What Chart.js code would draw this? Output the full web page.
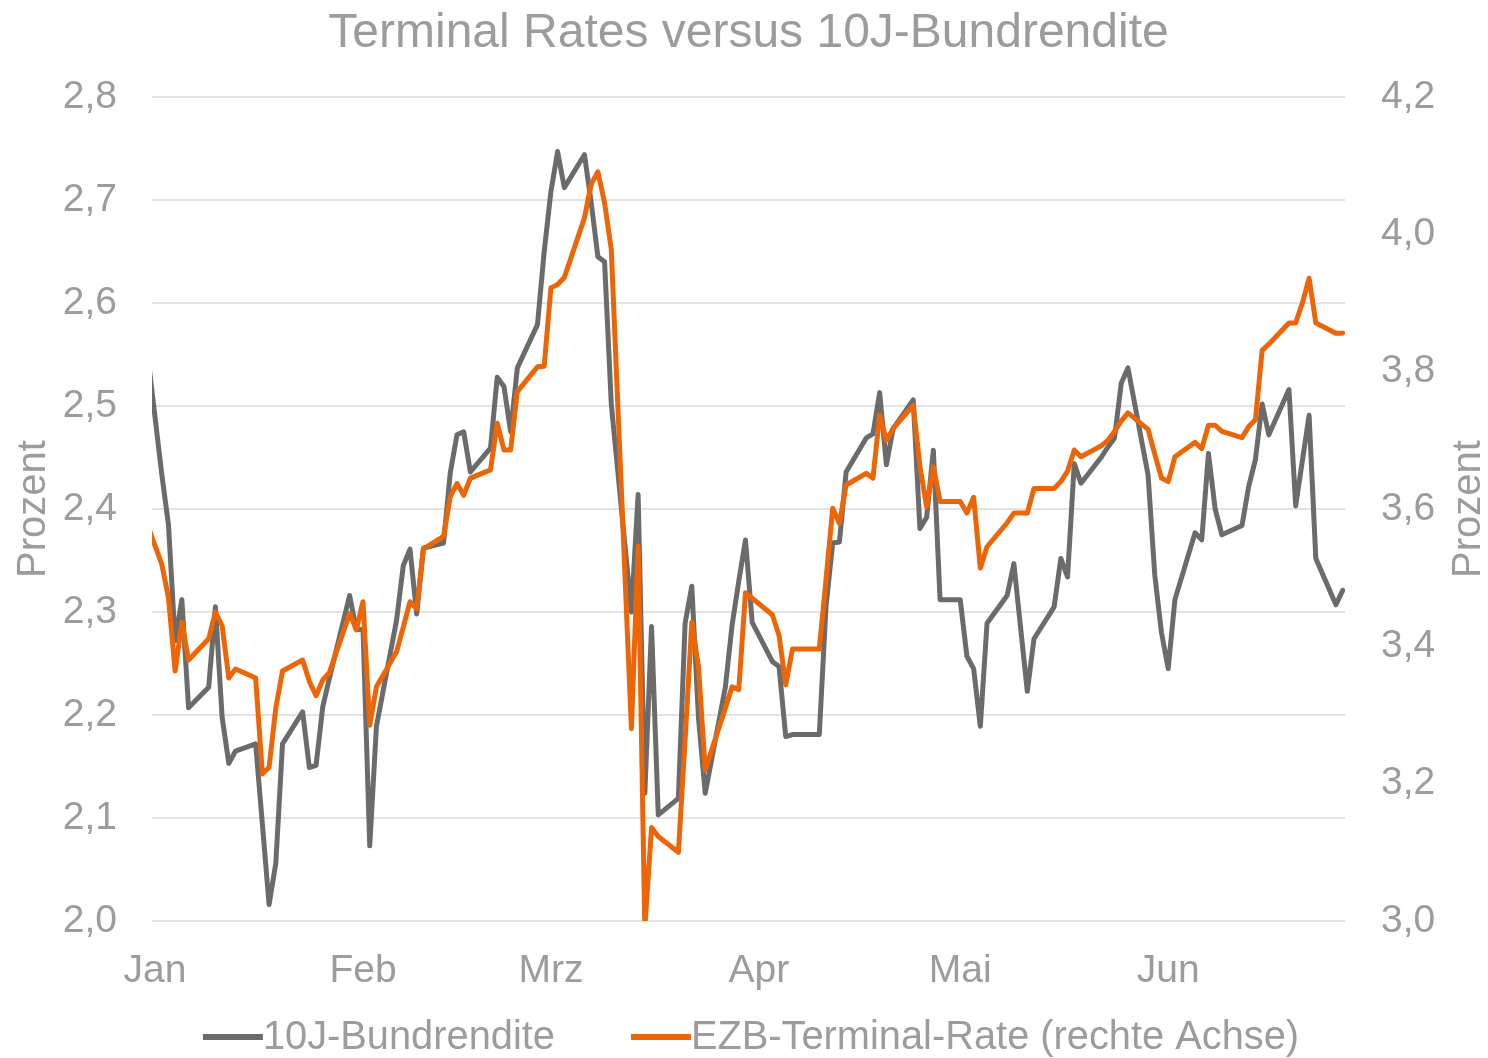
<!DOCTYPE html>
<html>
<head>
<meta charset="utf-8">
<script src="https://cdn.jsdelivr.net/npm/chart.js@4.4.1/dist/chart.umd.min.js"></script>
<style>
html,body{margin:0;padding:0;background:#ffffff;}
#wrap{width:1488px;height:1058px;position:relative;}
</style>
</head>
<body>
<div id="wrap"><canvas id="c" width="1488" height="1058"></canvas></div>
<script>
// Day of year 2023 (Jan 1 = 1); -1 = last trading day of 2022
const days = [-1,2,3,4,5,6,9,10,11,12,13,16,17,18,19,20,23,24,25,26,27,30,31,32,33,34,37,38,39,40,41,44,45,46,47,48,51,52,53,54,55,58,59,60,61,62,65,66,67,68,69,72,73,74,75,76,79,80,81,82,83,86,87,88,89,90,93,94,95,96,97,100,101,102,103,104,107,108,109,110,111,114,115,116,117,118,121,122,123,124,125,128,129,130,131,132,135,136,137,138,139,142,143,144,145,146,149,150,151,152,153,156,157,158,159,160,163,164,165,166,167,170,171,172,173,174,177,178];

const bund = [2.60,2.434,2.385,2.272,2.312,2.207,2.227,2.305,2.198,2.153,2.165,2.172,2.094,2.016,2.056,2.172,2.203,2.149,2.151,2.208,2.236,2.316,2.283,2.283,2.073,2.189,2.292,2.345,2.361,2.298,2.362,2.367,2.435,2.472,2.475,2.436,2.459,2.528,2.519,2.475,2.537,2.579,2.650,2.708,2.747,2.712,2.744,2.698,2.645,2.640,2.502,2.300,2.414,2.124,2.286,2.103,2.119,2.289,2.325,2.197,2.124,2.227,2.287,2.330,2.370,2.290,2.252,2.247,2.179,2.181,2.181,2.181,2.305,2.367,2.368,2.436,2.469,2.473,2.513,2.443,2.478,2.506,2.381,2.392,2.457,2.312,2.312,2.257,2.245,2.189,2.289,2.316,2.347,2.285,2.223,2.274,2.305,2.352,2.334,2.444,2.425,2.450,2.460,2.469,2.522,2.537,2.433,2.336,2.280,2.245,2.312,2.377,2.370,2.454,2.400,2.375,2.384,2.422,2.448,2.502,2.472,2.516,2.403,2.447,2.491,2.352,2.307,2.321];

const terminal = [3.60,3.520,3.471,3.364,3.435,3.380,3.411,3.450,3.430,3.354,3.367,3.354,3.214,3.224,3.310,3.364,3.380,3.349,3.328,3.351,3.362,3.448,3.424,3.465,3.285,3.341,3.392,3.428,3.465,3.455,3.542,3.560,3.618,3.637,3.620,3.645,3.657,3.725,3.686,3.686,3.771,3.807,3.808,3.922,3.927,3.937,4.024,4.073,4.091,4.046,3.978,3.280,3.546,2.99,3.136,3.123,3.100,3.263,3.435,3.370,3.220,3.310,3.341,3.337,3.478,3.470,3.446,3.416,3.344,3.396,3.396,3.396,3.497,3.601,3.579,3.635,3.652,3.645,3.737,3.700,3.717,3.751,3.662,3.603,3.662,3.611,3.611,3.594,3.617,3.514,3.545,3.580,3.594,3.594,3.594,3.630,3.630,3.640,3.655,3.686,3.676,3.692,3.700,3.713,3.728,3.740,3.716,3.680,3.645,3.640,3.676,3.697,3.688,3.722,3.722,3.713,3.704,3.720,3.730,3.831,3.840,3.871,3.871,3.900,3.936,3.871,3.856,3.856];

const monthTicks = [1, 32, 60, 91, 121, 152];
const monthLabels = ['Jan', 'Feb', 'Mrz', 'Apr', 'Mai', 'Jun'];
const leftTicks = [2.0, 2.1, 2.2, 2.3, 2.4, 2.5, 2.6, 2.7, 2.8];
const rightTicks = [3.0, 3.2, 3.4, 3.6, 3.8, 4.0, 4.2];
const seriesNames = ['10J-Bundrendite', 'EZB-Terminal-Rate (rechte Achse)'];
const chartTitle = 'Terminal Rates versus 10J-Bundrendite';
const axisTitle = 'Prozent';

const FONT = '"Liberation Sans", Arial, Helvetica, sans-serif';
const TEXT = '#9c9c9c';
const GRAY = '#6b6b6b';
const ORANGE = '#ec6608';

Chart.defaults.font.family = FONT;
Chart.defaults.color = TEXT;

const fmt = v => Number(v).toFixed(1).replace('.', ',');

const extras = {
  id: 'extras',
  afterDraw(chart) {
    const ctx = chart.ctx;
    const area = chart.chartArea;
    ctx.save();
    // right axis title (rotated like the left one)
    ctx.fillStyle = TEXT;
    ctx.font = '40px ' + FONT;
    ctx.textAlign = 'center';
    ctx.textBaseline = 'middle';
    ctx.translate(1469, (area.top + area.bottom) / 2);
    ctx.rotate(-Math.PI / 2);
    ctx.fillText(axisTitle, 0, 0);
    ctx.restore();

    // legend
    ctx.save();
    ctx.font = '39.8px ' + FONT;
    const sample = 60, gap = 76;
    const ds = chart.data.datasets;
    const widths = ds.map(d => ctx.measureText(d.label).width);
    const total = widths.reduce((a, w) => a + sample + w, 0) + gap * (ds.length - 1);
    let x = 751 - total / 2;
    const y = 1037;
    ds.forEach((d, i) => {
      ctx.strokeStyle = d.borderColor;
      ctx.lineWidth = 6;
      ctx.lineCap = 'butt';
      ctx.beginPath();
      ctx.moveTo(x, y);
      ctx.lineTo(x + sample, y);
      ctx.stroke();
      ctx.fillStyle = TEXT;
      ctx.textAlign = 'left';
      ctx.textBaseline = 'middle';
      ctx.fillText(d.label, x + sample, y + 1);
      x += sample + widths[i] + gap;
    });
    ctx.restore();
  }
};

new Chart(document.getElementById('c'), {
  type: 'line',
  data: {
    datasets: [
      {
        label: seriesNames[0],
        data: days.map((d, i) => ({ x: d, y: bund[i] })),
        yAxisID: 'y',
        borderColor: GRAY,
        backgroundColor: GRAY,
        borderWidth: 5,
        pointRadius: 0,
        tension: 0,
        borderJoinStyle: 'round',
        borderCapStyle: 'round',
        order: 2
      },
      {
        label: seriesNames[1],
        data: days.map((d, i) => ({ x: d, y: terminal[i] })),
        yAxisID: 'y1',
        borderColor: ORANGE,
        backgroundColor: ORANGE,
        borderWidth: 5,
        pointRadius: 0,
        tension: 0,
        borderJoinStyle: 'round',
        borderCapStyle: 'round',
        order: 1
      }
    ]
  },
  options: {
    responsive: false,
    animation: false,
    devicePixelRatio: 1,
    events: [],
    layout: { padding: { top: 0, left: 0, right: 0, bottom: 60 } },
    plugins: {
      legend: { display: false },
      tooltip: { enabled: false },
      title: {
        display: true,
        fullSize: false,
        text: chartTitle,
        color: TEXT,
        font: { size: 48, weight: 'normal', family: FONT },
        padding: { top: 5, bottom: 34.4 }
      }
    },
    scales: {
      x: {
        type: 'linear',
        min: 0.55,
        max: 178.35,
        grid: { display: false, drawTicks: false },
        border: { display: false },
        afterBuildTicks: s => { s.ticks = monthTicks.map(v => ({ value: v })); },
        afterFit: s => { s.height = 77; },
        ticks: {
          autoSkip: false,
          maxRotation: 0,
          padding: 27,
          font: { size: 39 },
          color: TEXT,
          callback: v => { const i = monthTicks.indexOf(v); return i >= 0 ? monthLabels[i] : ''; }
        }
      },
      y: {
        position: 'left',
        min: 2.0,
        max: 2.8,
        afterBuildTicks: s => { s.ticks = leftTicks.map(v => ({ value: v })); },
        afterFit: s => { s.width = 152; },
        grid: { color: '#e3e3e3', lineWidth: 2, drawTicks: false },
        border: { display: false },
        ticks: { padding: 35, font: { size: 39 }, color: TEXT, callback: fmt },
        title: {
          display: true,
          text: axisTitle,
          color: TEXT,
          font: { size: 40, family: FONT },
          padding: { top: 10, bottom: 0 }
        }
      },
      y1: {
        position: 'right',
        min: 3.0,
        max: 4.2,
        afterBuildTicks: s => { s.ticks = rightTicks.map(v => ({ value: v })); },
        afterFit: s => { s.width = 143; },
        grid: { display: false, drawTicks: false },
        border: { display: false },
        ticks: { padding: 36, font: { size: 39 }, color: TEXT, callback: fmt }
      }
    }
  },
  plugins: [extras]
});
</script>
</body>
</html>
